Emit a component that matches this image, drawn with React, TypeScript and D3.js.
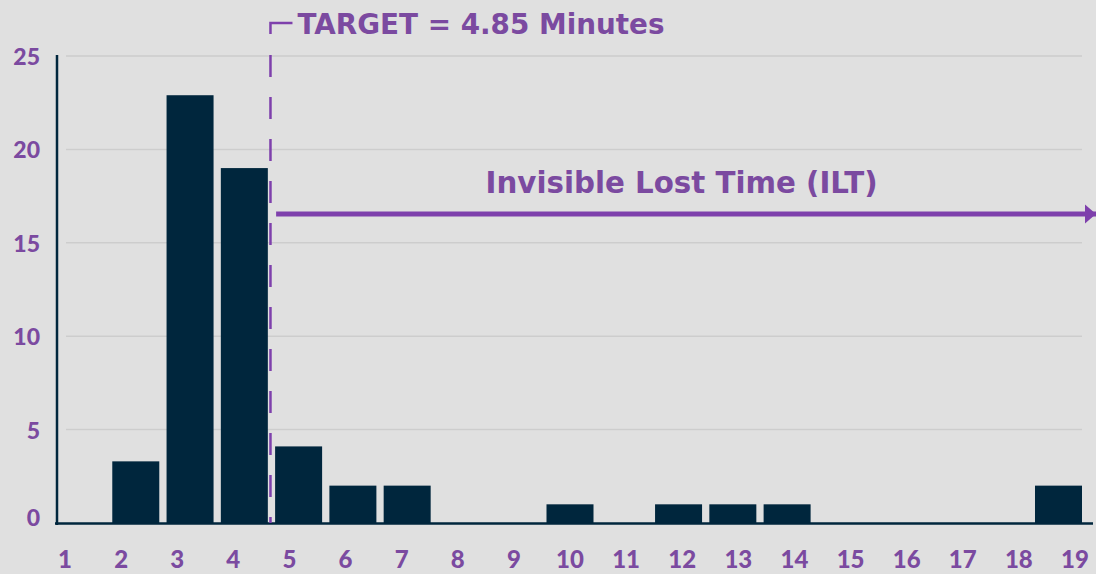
import * as d3 from "d3";
import React from "react";

// bins (minutes) and counts
const bins = [1, 2, 3, 4, 5, 6, 7, 8, 9, 10, 11, 12, 13, 14, 15, 16, 17, 18, 19];
const counts = [0, 3.3, 22.9, 19, 4.1, 2, 2, 0, 0, 1, 0, 1, 1, 1, 0, 0, 0, 0, 2];
const yTicks = [0, 5, 10, 15, 20, 25];
const targetLabel = "TARGET = 4.85 Minutes";
const targetAfterBin = 4; // dashed line sits in the gap after this bin
const arrowLabel = "Invisible Lost Time (ILT)";

const W = 1096;
const H = 574;
const BG = "#e0e0e0";
const BAR = "#00263d";
const PURPLE = "#7b4aa0";
const LINE_PURPLE = "#7e40ac";
const FONT = "Lato, 'Open Sans', sans-serif";
const TITLE_FONT = "'DejaVu Sans', 'Open Sans', sans-serif";

export default function App(): React.ReactElement {
  const x = d3
    .scaleBand<number>()
    .domain(bins)
    .range([58, 1082])
    .paddingInner(0.134)
    .paddingOuter(0);

  const y = d3.scaleLinear().domain([0, 25]).range([523, 56]);

  // tick labels under the axis run on their own slightly wider spacing
  const xLabel = d3.scalePoint<number>().domain(bins).range([65, 1075]);

  const gap = x.step() - x.bandwidth();
  const targetX = (x(targetAfterBin) ?? 0) + x.bandwidth() + gap / 2 - 1;
  const arrowStart = (x(targetAfterBin + 1) ?? 0) + 1;
  const arrowY = 214;
  const bracketTop = 23;

  return (
    <svg
      width={W}
      height={H}
      style={{ position: "absolute", left: 0, top: 0, background: BG }}
    >
      <rect width={W} height={H} fill={BG} />

      {/* gridlines */}
      {yTicks
        .filter((t) => t > 0)
        .map((t) => (
          <line
            key={`g-${t}`}
            x1={66}
            x2={1082}
            y1={y(t)}
            y2={y(t)}
            stroke="#cdcdcd"
            strokeWidth={1.5}
          />
        ))}

      {/* bars */}
      {bins.map((b, i) =>
        counts[i] > 0 ? (
          <rect
            key={`b-${b}`}
            x={x(b)}
            y={y(counts[i])}
            width={x.bandwidth()}
            height={y(0) - y(counts[i])}
            fill={BAR}
          />
        ) : null
      )}

      {/* axes */}
      <line x1={57} x2={57} y1={55} y2={525} stroke={BAR} strokeWidth={2.5} />
      <line x1={55} x2={1093} y1={y(0) + 0.5} y2={y(0) + 0.5} stroke={BAR} strokeWidth={2.5} />

      {/* y tick labels */}
      {yTicks.map((t) => (
        <text
          key={`yt-${t}`}
          x={40}
          y={t === 0 ? y(t) + 3 : y(t) + 9}
          textAnchor="end"
          fontFamily={FONT}
          fontWeight={900}
          fontSize={23}
          fill={PURPLE}
        >
          {t}
        </text>
      ))}

      {/* x tick labels */}
      {bins.map((b) => (
        <text
          key={`xt-${b}`}
          x={xLabel(b)}
          y={568}
          textAnchor="middle"
          fontFamily={FONT}
          fontWeight={900}
          fontSize={24}
          fill={PURPLE}
        >
          {b}
        </text>
      ))}

      {/* target marker */}
      <path
        d={`M${targetX},${bracketTop + 11} V${bracketTop} H${targetX + 22}`}
        fill="none"
        stroke={LINE_PURPLE}
        strokeWidth={2.5}
      />
      <line
        x1={targetX}
        x2={targetX}
        y1={55}
        y2={y(0)}
        stroke={LINE_PURPLE}
        strokeWidth={2.5}
        strokeDasharray="22 20"
      />
      <text
        x={targetX + 27}
        y={34}
        fontFamily={TITLE_FONT}
        fontWeight={700}
        fontSize={29}
        textLength={367}
        lengthAdjust="spacingAndGlyphs"
        fill={PURPLE}
      >
        {targetLabel}
      </text>

      {/* ILT arrow */}
      <defs>
        <marker
          id="ilt-head"
          viewBox="0 0 10 10"
          refX={10}
          refY={5}
          markerWidth={2.3}
          markerHeight={4}
          markerUnits="strokeWidth"
          orient="auto"
          preserveAspectRatio="none"
        >
          <path d="M0,0 L10,5 L0,10 Z" fill={LINE_PURPLE} />
        </marker>
      </defs>
      <line
        x1={arrowStart}
        x2={W}
        y1={arrowY}
        y2={arrowY}
        stroke={LINE_PURPLE}
        strokeWidth={5}
        markerEnd="url(#ilt-head)"
      />
      <text
        x={(arrowStart + 1087) / 2}
        y={193}
        textAnchor="middle"
        fontFamily={TITLE_FONT}
        fontWeight={700}
        fontSize={29.5}
        textLength={392}
        lengthAdjust="spacingAndGlyphs"
        fill={PURPLE}
      >
        {arrowLabel}
      </text>
    </svg>
  );
}
